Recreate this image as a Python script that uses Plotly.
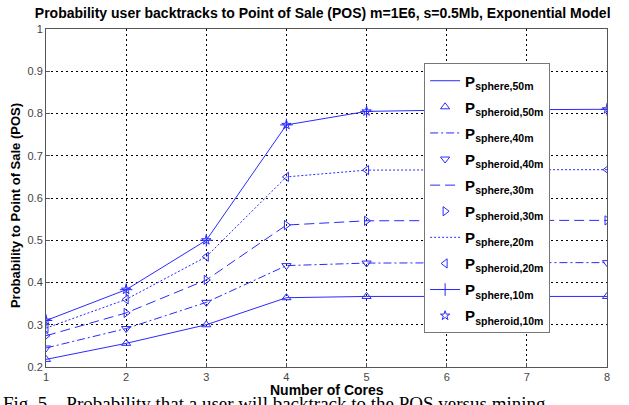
import plotly.graph_objects as go

cores = [1, 2, 3, 4, 5, 6, 7, 8]

sphere_50m   = [0.218, 0.256, 0.300, 0.364, 0.367, 0.367, 0.367, 0.367]
spheroid_50m = [0.218, 0.256, 0.300, 0.364, 0.367, 0.367, 0.367, 0.367]
sphere_40m   = [0.245, 0.291, 0.353, 0.440, 0.446, 0.447, 0.447, 0.447]
spheroid_40m = [0.245, 0.291, 0.353, 0.440, 0.446, 0.447, 0.447, 0.447]
sphere_30m   = [0.274, 0.328, 0.406, 0.536, 0.546, 0.547, 0.547, 0.547]
spheroid_30m = [0.274, 0.328, 0.406, 0.536, 0.546, 0.547, 0.547, 0.547]
sphere_20m   = [0.292, 0.360, 0.461, 0.650, 0.666, 0.667, 0.667, 0.667]
spheroid_20m = [0.292, 0.360, 0.461, 0.650, 0.666, 0.667, 0.667, 0.667]
sphere_10m   = [0.310, 0.383, 0.500, 0.773, 0.805, 0.808, 0.809, 0.810]
spheroid_10m = [0.310, 0.383, 0.500, 0.773, 0.805, 0.808, 0.809, 0.810]

names = ["<b>P<sub>sphere,50m</sub></b>", "<b>P<sub>spheroid,50m</sub></b>",
         "<b>P<sub>sphere,40m</sub></b>", "<b>P<sub>spheroid,40m</sub></b>",
         "<b>P<sub>sphere,30m</sub></b>", "<b>P<sub>spheroid,30m</sub></b>",
         "<b>P<sub>sphere,20m</sub></b>", "<b>P<sub>spheroid,20m</sub></b>",
         "<b>P<sub>sphere,10m</sub></b>", "<b>P<sub>spheroid,10m</sub></b>"]

BLUE = "#2a2aff"
FONT = "Liberation Sans, Arial, sans-serif"

fig = go.Figure()
counter = [0]

def line_trace(y, name, dash, marker=None):
    counter[0] += 1
    kw = dict(x=cores, y=y, name=name, legendgroup="g%d" % counter[0],
              line=dict(color=BLUE, width=1, dash=dash))
    if marker:
        kw["mode"] = "lines+markers"
        kw["marker"] = dict(symbol=marker, size=9, color=BLUE, line=dict(color=BLUE, width=1))
    else:
        kw["mode"] = "lines"
    fig.add_trace(go.Scatter(**kw))

def marker_trace(y, name, symbol, size=8):
    counter[0] += 1
    fig.add_trace(go.Scatter(x=cores, y=y, name=name, mode="markers", legendgroup="g%d" % counter[0],
                             marker=dict(symbol=symbol, size=size, color=BLUE,
                                         line=dict(color=BLUE, width=1))))

line_trace(sphere_50m, names[0], "solid")
marker_trace(spheroid_50m, names[1], "triangle-up-open")
line_trace(sphere_40m, names[2], "8px,3px,2px,3px")
marker_trace(spheroid_40m, names[3], "triangle-down-open")
line_trace(sphere_30m, names[4], "10px,5px")
marker_trace(spheroid_30m, names[5], "triangle-right-open")
line_trace(sphere_20m, names[6], "2px,2px")
marker_trace(spheroid_20m, names[7], "triangle-left-open")
line_trace(sphere_10m, names[8], "solid", marker="cross-thin-open")
marker_trace(spheroid_10m, names[9], "star-open", size=7)

axis_common = dict(
    showline=True, mirror=True, linecolor="#555", linewidth=1,
    showgrid=True, gridcolor="#000", griddash="2px,3px", gridwidth=1,
    ticks="inside", ticklen=4, tickcolor="#555",
    tickfont=dict(family=FONT, size=11, color="#444"),
    zeroline=False, automargin=False,
)

fig.update_xaxes(range=[1, 8], dtick=1, tick0=1, **axis_common)
fig.update_yaxes(range=[0.2, 1], dtick=0.1, tick0=0.2, **axis_common)

fig.update_layout(
    width=629, height=405,
    margin=dict(l=46, r=22, t=29, b=38, autoexpand=False),
    paper_bgcolor="white", plot_bgcolor="white",
    font=dict(family=FONT, color="#000"),
    title=dict(text="<b>Probability user backtracks to Point of Sale (POS) m=1E6, s=0.5Mb, Exponential Model</b>",
               x=0.513, xanchor="center", y=0.967, yanchor="middle", yref="container",
               font=dict(family=FONT, size=14, color="#000")),
    legend=dict(x=0.674, y=0.898, xanchor="left", yanchor="top",
                bgcolor="white", bordercolor="#777", borderwidth=1,
                font=dict(family=FONT, size=15, color="#000"),
                itemwidth=30, tracegroupgap=3.6, traceorder="grouped"),
    showlegend=True,
    hovermode=False,
)

fig.add_annotation(text="<b>Number of Cores</b>", xref="paper", yref="paper",
                   x=0.5, y=-0.068, xanchor="center", yanchor="middle", showarrow=False,
                   font=dict(family=FONT, size=14, color="#000"))
fig.add_annotation(text="<b>Probability to Point of Sale (POS)</b>", xref="paper", yref="paper",
                   x=-0.0553, y=0.479, xanchor="center", yanchor="middle", showarrow=False,
                   textangle=-90, font=dict(family=FONT, size=13, color="#000"))
fig.add_annotation(text="Fig. 5.   Probability that a user will backtrack to the POS versus mining",
                   xref="paper", yref="paper", x=-0.08, y=-0.071, xanchor="left", yanchor="top",
                   showarrow=False, font=dict(family="Liberation Serif, Times New Roman, serif", size=19, color="#000"))

fig.write_html("out.html", config={"displayModeBar": False},
               post_script="document.body.style.margin='0';document.body.style.overflow='hidden';")
